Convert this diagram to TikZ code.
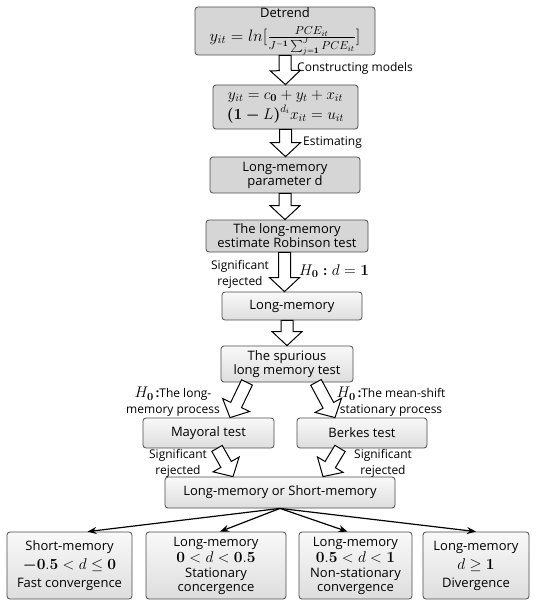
\RequirePackage{fix-cm}
\documentclass[tikz,border=0pt]{standalone}
\usepackage{amsmath}
\usepackage[no-math]{fontspec}
\setmainfont{Open Sans}
\usetikzlibrary{calc,arrows.meta}
\newcommand\boxfont{\fontsize{13}{17}\selectfont}
\newcommand\lblfont{\fontsize{12}{16}\selectfont}
\newcommand\mth[1]{{\fontsize{15.5}{17}\selectfont$#1$}}
\newcommand\blkarr[2]{%
  \coordinate (ba-s) at (#1);
  \coordinate (ba-e) at (#2);
  \coordinate (ba-n) at ($(ba-e)!14pt!(ba-s)$);
  \draw[blk] ($(ba-s)!6pt!90:(ba-e)$) -- ($(ba-n)!6pt!90:(ba-e)$) -- ($(ba-n)!15pt!90:(ba-e)$)
     -- (ba-e) -- ($(ba-n)!15pt!-90:(ba-e)$) -- ($(ba-n)!6pt!-90:(ba-e)$) -- ($(ba-s)!6pt!-90:(ba-e)$) -- cycle;
}
\tikzset{
  box/.style={draw=gray!60!black, line width=0.8pt, rounded corners=3pt, align=center, inner sep=0pt, font=\boxfont},
  darkbox/.style={box, fill=gray!32},
  lightbox/.style={box, top color=gray!5, bottom color=gray!26},
  blk/.style={draw=black, line width=1pt, fill=white, line join=miter},
  lbl/.style={font=\lblfont, align=center, inner sep=0pt},
  conn/.style={line width=1.2pt, -{Stealth[length=9pt,width=7pt]}},
}
\begin{document}
\begin{tikzpicture}[x=1pt,y=-1pt]
\useasboundingbox (0,0) rectangle (536,607);
% nodes
\node[darkbox, minimum width=180pt, minimum height=48pt] (n1) at (285,31)
  {Detrend\\[7pt] {\fontsize{16.5}{17}\selectfont$y_{it}=ln[\frac{PCE_{it}}{J^{-\mathbf{1}}\sum_{j=\mathbf{1}}^{J}PCE_{it}}]$}};
\node[darkbox, minimum width=145pt, minimum height=44pt] (n2) at (285.5,107)
  {\mth{y_{it}=c_{\mathbf{0}}+y_t+x_{it}}\\[1pt] \mth{\boldsymbol{(}\mathbf{1}\boldsymbol{-}L\boldsymbol{)}^{d_i}x_{it}=u_{it}}};
\node[darkbox, minimum width=150pt, minimum height=36pt] (n3) at (285,175)
  {Long-memory\\[-3pt] parameter d};
\node[darkbox, minimum width=162pt, minimum height=32pt] (n4) at (287,236)
  {The long-memory\\[-3pt] estimate Robinson test};
\node[lightbox, minimum width=140pt, minimum height=28pt] (n5) at (292,306) {Long-memory};
\node[lightbox, minimum width=132pt, minimum height=36pt] (n6) at (287,364)
  {The spurious\\[-3pt] long memory test};
\node[lightbox, minimum width=131pt, minimum height=30pt] (n7) at (208.5,433) {Mayoral test};
\node[lightbox, minimum width=130pt, minimum height=30pt] (n8) at (362,433) {Berkes test};
\node[lightbox, minimum width=230pt, minimum height=31pt] (n9) at (280,492.5) {Long-memory or Short-memory};
\node[lightbox, minimum width=125pt, minimum height=67pt] (b1) at (69.5,565.5)
  {Short-memory\\[2pt] \mth{\boldsymbol{-}\mathbf{0.5}<d\le\mathbf{0}}\\[1pt] Fast convergence};
\node[lightbox, minimum width=140pt, minimum height=67pt] (b2) at (216,565.5)
  {Long-memory\\[-1pt] \mth{\mathbf{0}<d<\mathbf{0.5}}\\[-2pt] Stationary\\[-3pt] concergence};
\node[lightbox, minimum width=113pt, minimum height=67pt] (b3) at (355.5,565.5)
  {Long-memory\\[-1pt] \mth{\mathbf{0.5}<d<\mathbf{1}}\\[-2pt] Non-stationary\\[-3pt] convergence};
\node[lightbox, minimum width=106pt, minimum height=67pt] (b4) at (476,565.5)
  {Long-memory\\[2pt] \mth{d\ge\mathbf{1}}\\[1pt] Divergence};
% block arrows
\blkarr{n1.south}{n2.north}
\blkarr{n2.south}{n2.south |- n3.north}
\blkarr{n3.south}{n3.south |- n4.north}
\coordinate (a4) at ($(n4.south)+(-2.5,0)$);
\blkarr{a4}{a4 |- n5.north}
\blkarr{n6.north |- n5.south}{n6.north}
\blkarr{$(n6.south)+(-40,0)$}{$(n7.north)+(21.5,0)$}
\blkarr{$(n6.south)+(29,0)$}{$(n8.north)+(-27,0)$}
\blkarr{$(n7.south)+(8.5,0)$}{$(n9.north)+(-47,0)$}
\blkarr{$(n8.south)+(-22,0)$}{$(n9.north)+(43,0)$}
% labels
\node[lbl, anchor=west] (l1) at (297,68) {Constructing models};
\node[lbl, anchor=west] (l2) at (303,143) {Estimating};
\node[lbl] (l3) at (240,274) {Significant\\ rejected};
\node[lbl, anchor=west] (l4) at (299,271) {\mth{H_{\mathbf{0}}\boldsymbol{:}d=\mathbf{1}}};
\node[lbl] (l5) at (173,402) {\mth{H_{\mathbf{0}}}\,\textbf{:}The long-\\ memory process};
\node[lbl] (l6) at (391,402) {\mth{H_{\mathbf{0}}}\,\textbf{:}The mean-shift\\ stationary process};
\node[lbl] (l7) at (178,463) {Significant\\ rejected};
\node[lbl] (l8) at (383,463) {Significant\\ rejected};
% connectors
\draw[conn] (n9.south) -- ($(b1.north)+(18,0)$);
\draw[conn] (n9.south) -- ($(b2.north)+(4,0)$);
\draw[conn] (n9.south) -- ($(b3.north)+(-8,0)$);
\draw[conn] (n9.south) -- (b4.north);
\end{tikzpicture}
\end{document}
